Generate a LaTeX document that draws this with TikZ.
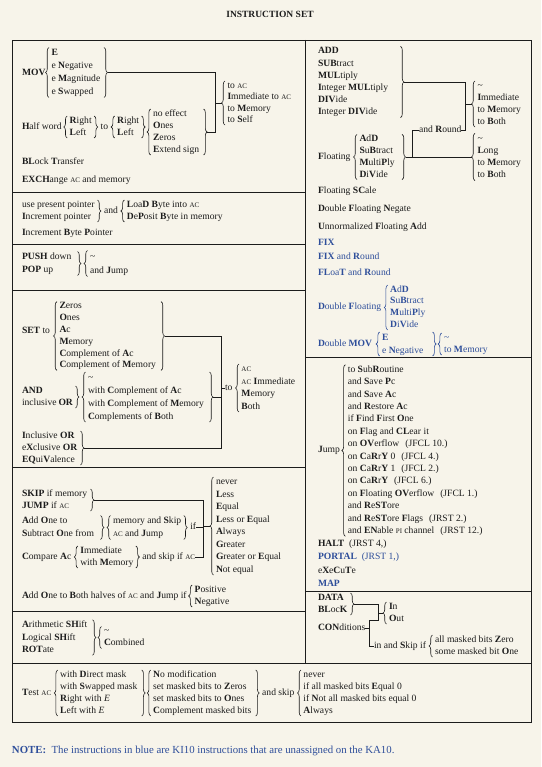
\documentclass[tikz,border=0pt]{standalone}
\usepackage{fontspec}
\setmainfont{Liberation Serif}
\usetikzlibrary{calc,decorations.pathreplacing}
\definecolor{ink}{HTML}{1C1C1C}
\definecolor{kblue}{HTML}{2E4E9A}
\definecolor{paper}{HTML}{F7F4EA}
\newcommand\mn[1]{\textbf{#1}}
\newcommand\acx{\mbox{\fontsize{7}{8}\selectfont AC}}
\newcommand\pix{\mbox{\fontsize{7}{8}\selectfont PI}}
\newcommand\gap{\hspace{6pt}}
\newcommand\TL[2]{\begin{tabular}{@{}#1@{}}#2\end{tabular}}
\newcommand\OB[2][ink]{\draw[brc,draw=#1] ([xshift=-2.5pt,yshift=1pt]#2.south west) -- ([xshift=-2.5pt,yshift=-1pt]#2.north west);}
\newcommand\CB[2][ink]{\draw[brc,draw=#1] ([xshift=2.5pt,yshift=-1pt]#2.north east) -- ([xshift=2.5pt,yshift=1pt]#2.south east);}
\begin{document}
\begin{tikzpicture}[x=1pt,y=-1pt,
 txt/.style={inner sep=0pt, outer sep=0pt, anchor=west, text=ink, font=\fontsize{9.6}{12}\selectfont},
 one/.style={txt, text height=6.8pt, text depth=2pt},
 gp/.style={txt, font=\fontsize{9.6}{#1}\selectfont},
 gp/.default=12,
 ln/.style={draw=ink, line width=0.6pt},
 frm/.style={draw=ink, line width=0.75pt},
 brc/.style={decorate, decoration={brace, amplitude=3.5pt}, line width=0.6pt},
 blu/.style={text=kblue},
]
\fill[paper] (0,0) rectangle (541,767);
\useasboundingbox (0,0) rectangle (541,767);
\node[font=\bfseries\fontsize{9.5}{11}\selectfont, text=ink, inner sep=0pt] (title) at (270,14) {INSTRUCTION SET};
% frame
\draw[frm] (12,40) rectangle (531,722);
\draw[frm] (305,40) -- (305,663);
\foreach \y in {192,244,290,467,611} \draw[frm] (12,\y) -- (305,\y);
\draw[frm] (12,663) -- (531,663);
\draw[frm] (305,357) -- (531,357);
\draw[frm] (305,591) -- (531,591);
% ---------------- left column
\node[one] (movL) at (22,73) {\mn{MOV}};
\node[gp=13] (movG) at (51.5,72.5) {\TL{p{50pt}}{\mn{E}\\e \mn{N}egative\\e \mn{M}agnitude\\e \mn{S}wapped}};
\OB{movG}\CB{movG}
\node[gp=11.5] (toac) at (227.5,103) {\TL{l}{to \acx\\\mn{I}mmediate to \acx\\to \mn{M}emory\\to \mn{S}elf}};
\OB{toac}
\node[one] (hwL) at (22,127) {\mn{H}alf word};
\node[gp] (hw1) at ([xshift=8pt]hwL.east) {\TL{l}{\mn{R}ight\\\mn{L}eft}};
\OB{hw1}\CB{hw1}
\node[one] (hwto) at ([xshift=9pt]hw1.east) {to};
\node[gp] (hw2) at ([xshift=9pt]hwto.east) {\TL{l}{\mn{R}ight\\\mn{L}eft}};
\OB{hw2}\CB{hw2}
\node[gp] (hw3) at ([xshift=14pt]hw2.east |- 0,132) {\TL{p{48pt}}{no effect\\\mn{O}nes\\\mn{Z}eros\\\mn{E}xtend sign}};
\OB{hw3}\CB{hw3}
\coordinate (k1) at (215,75);
\draw[ln] ([xshift=6pt]movG.east) -- (movG.east -| k1) -- (k1 |- hw3.east) -- ([xshift=6pt]hw3.east);
\draw[ln] (k1 |- toac.west) -- ([xshift=-6pt]toac.west);
\node[one] (blt) at (22,162) {\mn{BL}ock \mn{T}ransfer};
\node[one] (exch) at (22,180) {\mn{EXCH}ange \acx\ and memory};
\node[gp] (ptr) at (22,211) {\TL{p{73pt}}{use present pointer\\\mn{I}ncrement pointer}};
\CB{ptr}
\node[one] (pand) at ([xshift=9pt]ptr.east) {and};
\node[gp] (ldb) at ([xshift=9pt]pand.east) {\TL{l}{\mn{L}oa\mn{D} \mn{B}yte into \acx\\\mn{D}e\mn{P}osit \mn{B}yte in memory}};
\OB{ldb}
\node[one] (ibp) at (22,233) {\mn{I}ncrement \mn{B}yte \mn{P}ointer};
\node[gp=13] (push) at (22,263.5) {\TL{p{53pt}}{\mn{PUSH} down\\\mn{POP} up}};
\CB{push}
\node[gp=14] (pushj) at ([xshift=15pt]push.east) {\TL{l}{\textasciitilde\\and \mn{J}ump}};
\OB{pushj}
\node[one] (set) at (22,331) {\mn{SET} to};
\node[gp=11.8] (setG) at (59.5,336) {\TL{p{99pt}}{\mn{Z}eros\\\mn{O}nes\\\mn{A}c\\\mn{M}emory\\\mn{C}omplement of \mn{A}c\\\mn{C}omplement of \mn{M}emory}};
\OB{setG}\CB{setG}
\node[gp] (andL) at (22,397) {\TL{p{51pt}}{\mn{AND}\\inclusive \mn{OR}}};
\CB{andL}
\node[gp=13] (andG) at ([xshift=15pt]andL.east) {\TL{p{119pt}}{\textasciitilde\\with \mn{C}omplement of \mn{A}c\\with \mn{C}omplement of \mn{M}emory\\\mn{C}omplements of \mn{B}oth}};
\OB{andG}\CB{andG}
\node[one] (toL) at (225,388) {to};
\node[gp=12.5] (toG) at ([xshift=9pt]toL.east) {\TL{l}{\acx\\\acx\ \mn{I}mmediate\\\mn{M}emory\\\mn{B}oth}};
\OB{toG}
\node[gp] (iorL) at (22,448) {\TL{p{56pt}}{\mn{I}nclusive \mn{OR}\\e\mn{X}clusive \mn{OR}\\\mn{EQ}ui\mn{V}alence}};
\CB{iorL}
\coordinate (k2) at (221,336);
\draw[ln] ([xshift=6pt]setG.east) -- (setG.east -| k2) -- (k2 |- iorL.east) -- ([xshift=6pt]iorL.east);
\draw[ln] ([xshift=6pt]andG.east) -- (andG.east -| k2);
\draw[ln] (k2 |- toL.west) -- (toL.west);
\node[gp] (skip) at (22,500) {\TL{p{66pt}}{\mn{SKIP} if memory\\\mn{JUMP} if \acx}};
\CB{skip}
\node[gp=13] (aoj) at (22,527.5) {\TL{p{76pt}}{\mn{A}dd \mn{O}ne to\\\mn{S}ubtract \mn{O}ne from}};
\CB{aoj}
\node[gp=13] (aojG) at ([xshift=15pt]aoj.east) {\TL{l}{memory and \mn{S}kip\\\acx\ and \mn{J}ump}};
\OB{aojG}\CB{aojG}
\node[one] (ifL) at ([xshift=9pt]aojG.east) {if};
\node[one] (cmp) at (22,557) {\mn{C}ompare \mn{A}c};
\node[gp] (cmpG) at ([xshift=9pt]cmp.east) {\TL{l}{\mn{I}mmediate\\with \mn{M}emory}};
\OB{cmpG}\CB{cmpG}
\node[one] (cmpS) at ([xshift=9pt]cmpG.east) {and skip if \acx};
\coordinate (k3) at (203,500);
\node[gp=12.5] (never) at (216,526) {\TL{l}{never\\\mn{L}ess\\\mn{E}qual\\\mn{L}ess or \mn{E}qual\\\mn{A}lways\\\mn{G}reater\\\mn{G}reater or \mn{E}qual\\\mn{N}ot equal}};
\OB{never}
\draw[ln] ([xshift=6pt]skip.east) -- (skip.east -| k3) -- (k3 |- cmpS.east) -- (cmpS.east);
\draw[ln] (ifL.east) -- (ifL.east -| k3);
\draw[ln] (k3 |- never.west) -- ([xshift=-6pt]never.west);
\node[one] (aob) at (22,596) {\mn{A}dd \mn{O}ne to \mn{B}oth halves of \acx\ and \mn{J}ump if};
\node[gp] (aobG) at ([xshift=8pt]aob.east) {\TL{l}{\mn{P}ositive\\\mn{N}egative}};
\OB{aobG}
\node[gp=12.5] (shift) at (22,637.5) {\TL{p{68pt}}{\mn{A}rithmetic \mn{SH}ift\\\mn{L}ogical \mn{SH}ift\\\mn{ROT}ate}};
\CB{shift}
\node[gp] (shG) at ([xshift=14pt]shift.east) {\TL{l}{\textasciitilde\\\mn{C}ombined}};
\OB{shG}
\node[one] (test) at (22,693) {\mn{T}est \acx};
\node[gp] (testG) at ([xshift=9pt]test.east) {\TL{p{79pt}}{with \mn{D}irect mask\\with \mn{S}wapped mask\\\mn{R}ight with \textit{E}\\\mn{L}eft with \textit{E}}};
\OB{testG}\CB{testG}
\node[gp] (tmod) at ([xshift=14pt]testG.east) {\TL{p{100pt}}{\mn{N}o modification\\set masked bits to \mn{Z}eros\\set masked bits to \mn{O}nes\\\mn{C}omplement masked bits}};
\OB{tmod}\CB{tmod}
\node[one] (tsk) at ([xshift=9pt]tmod.east) {and skip};
\node[gp] (tskG) at ([xshift=9pt]tsk.east) {\TL{l}{never\\if all masked bits \mn{E}qual 0\\if \mn{N}ot all masked bits equal 0\\\mn{A}lways}};
\OB{tskG}
\node[one,blu,font=\fontsize{10.8}{12}\selectfont] (note) at (12,751) {\mn{NOTE:}\ \ The instructions in blue are KI10 instructions that are unassigned on the KA10.};
% ---------------- right column
\node[gp=12.2] (addG) at (318,82) {\TL{p{80pt}}{\mn{ADD}\\\mn{SUB}tract\\\mn{MUL}tiply\\\mn{I}nteger \mn{MUL}tiply\\\mn{DIV}ide\\\mn{I}nteger \mn{DIV}ide}};
\CB{addG}
\node[gp] (up) at (477.5,104) {\TL{l}{\textasciitilde\\\mn{I}mmediate\\to \mn{M}emory\\to \mn{B}oth}};
\OB{up}
\node[one] (rnd) at (419,130) {and \mn{R}ound};
\node[one] (flt) at (318,157) {\mn{F}loating};
\node[gp=11.8] (fltG) at ([xshift=9pt]flt.east) {\TL{p{40pt}}{\mn{A}d\mn{D}\\\mn{S}u\mn{B}tract\\\mn{M}ulti\mn{P}ly\\\mn{D}i\mn{V}ide}};
\OB{fltG}\CB{fltG}
\node[gp=12.3] (lo) at (477.5,157) {\TL{l}{\textasciitilde\\\mn{L}ong\\to \mn{M}emory\\to \mn{B}oth}};
\OB{lo}
\coordinate (k4) at (465,82);
\draw[ln] ([xshift=6pt]addG.east) -- (addG.east -| k4) -- (k4 |- rnd.east) -- (rnd.east);
\draw[ln] (k4 |- up.west) -- ([xshift=-6pt]up.west);
\coordinate (k5) at (412,130);
\draw[ln] (rnd.west) -- (rnd.west -| k5) -- (k5 |- fltG.east) -- ([xshift=6pt]fltG.east);
\draw[ln] ([xshift=6pt]fltG.east) -- ([xshift=-6pt]lo.west |- fltG.east);
\node[one] (fsc) at (318,191) {\mn{F}loating \mn{SC}ale};
\node[one] (dfn) at (318,209) {\mn{D}ouble \mn{F}loating \mn{N}egate};
\node[one] (ufa) at (318,227) {\mn{U}nnormalized \mn{F}loating \mn{A}dd};
\node[one,blu] (fix) at (318,243) {\mn{FIX}};
\node[one,blu] (fixr) at (318,257) {\mn{FIX} and \mn{R}ound};
\node[one,blu] (fltr) at (318,273) {\mn{FL}oa\mn{T} and \mn{R}ound};
\node[one,blu] (dfl) at (318,307.5) {\mn{D}ouble \mn{F}loating};
\node[gp=11.7,blu] (dflG) at ([xshift=9pt]dfl.east) {\TL{l}{\mn{A}d\mn{D}\\\mn{S}u\mn{B}tract\\\mn{M}ulti\mn{P}ly\\\mn{D}i\mn{V}ide}};
\OB[kblue]{dflG}
\node[one,blu] (dmov) at (318,344) {\mn{D}ouble \mn{MOV}};
\node[gp=13,blu] (dmovG) at ([xshift=10pt]dmov.east) {\TL{p{48pt}}{\mn{E}\\e \mn{N}egative}};
\OB[kblue]{dmovG}\CB[kblue]{dmovG}
\node[gp=12,blu] (dmovT) at ([xshift=14pt]dmovG.east) {\TL{l}{\textasciitilde\\to \mn{M}emory}};
\OB[kblue]{dmovT}
\node[one] (jump) at (318,450.5) {\mn{J}ump};
\node[gp=12.4] (jumpG) at ([xshift=8pt]jump.east) {\TL{l}{to \mn{S}ub\mn{R}outine\\and \mn{S}ave \mn{P}c\\and \mn{S}ave \mn{A}c\\and \mn{R}estore \mn{A}c\\if \mn{F}ind \mn{F}irst \mn{O}ne\\on \mn{F}lag and \mn{CL}ear it\\on \mn{OV}erflow\gap(JFCL 10.)\\on \mn{C}a\mn{R}r\mn{Y} 0\gap(JFCL 4.)\\on \mn{C}a\mn{R}r\mn{Y} 1\gap(JFCL 2.)\\on \mn{C}a\mn{R}r\mn{Y}\gap(JFCL 6.)\\on \mn{F}loating \mn{OV}erflow\gap(JFCL 1.)\\and \mn{R}e\mn{ST}ore\\and \mn{R}e\mn{ST}ore \mn{F}lags\gap(JRST 2.)\\and \mn{EN}able \pix\ channel\gap(JRST 12.)}};
\OB{jumpG}
\node[one] (halt) at (318,544) {\mn{HALT}\ \ (JRST 4,)};
\node[one,blu] (portal) at (318,557) {\mn{PORTAL}\ \ (JRST 1,)};
\node[one] (xct) at (318,571) {e\mn{X}e\mn{C}u\mn{T}e};
\node[one,blu] (map) at (318,584) {\mn{MAP}};
\node[gp] (data) at (318,604) {\TL{p{30pt}}{\mn{DATA}\\\mn{BL}oc\mn{K}}};
\CB{data}
\node[gp] (io) at (389,613) {\TL{l}{\mn{I}n\\\mn{O}ut}};
\OB{io}
\node[one] (con) at (318,628) {\mn{CON}ditions};
\node[one] (ins) at (374,646) {in and \mn{S}kip if};
\node[gp] (insG) at ([xshift=9pt]ins.east) {\TL{l}{all masked bits \mn{Z}ero\\some masked bit \mn{O}ne}};
\OB{insG}
\coordinate (k6) at (378,604);
\coordinate (k7) at (369,620);
\draw[ln] ([xshift=6pt]data.east) -- (data.east -| k6) -- (k6 |- k7) -- (k7) -- (k7 |- ins.west) -- (ins.west);
\draw[ln] (con.east) -- (con.east -| k7);
\draw[ln] (k6 |- io.west) -- ([xshift=-6pt]io.west);
\end{tikzpicture}
\end{document}
